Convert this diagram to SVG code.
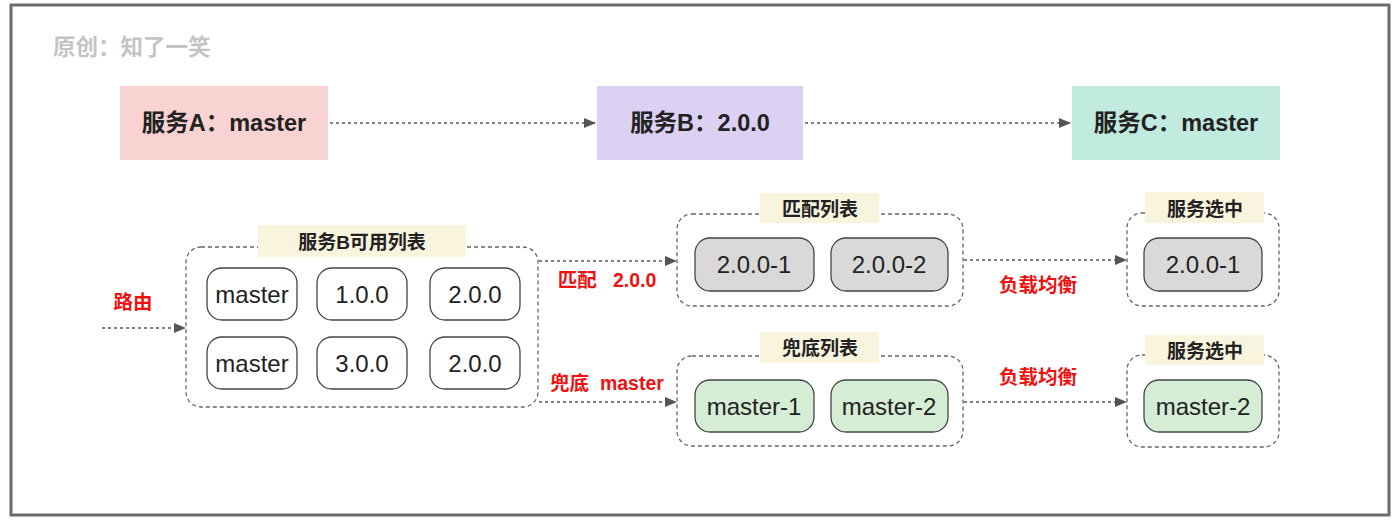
<svg xmlns="http://www.w3.org/2000/svg" width="1400" height="520" viewBox="0 0 1400 520">
<style>
text{font-family:"Liberation Sans","Noto Sans CJK SC",sans-serif;}
.svc{font-size:23.5px;font-weight:bold;fill:#222;text-anchor:middle;dominant-baseline:central;}
.cont{fill:none;stroke:#666;stroke-width:1.3;stroke-dasharray:4 3;}
.lbg{fill:#f8f4dd;}
.ltxt{font-size:19px;font-weight:bold;fill:#222;text-anchor:middle;dominant-baseline:central;}
.node{fill:#fff;stroke:#444;stroke-width:1.3;}
.gray{fill:#d9d9d9;}
.green{fill:#d5ecd5;}
.ntxt{font-size:24px;fill:#222;text-anchor:middle;dominant-baseline:central;}
.red{font-size:19.5px;font-weight:bold;fill:#f01010;text-anchor:middle;dominant-baseline:central;}
.conn{fill:none;stroke:#555;stroke-width:1.3;stroke-dasharray:3 3;marker-end:url(#ah);}
</style>
<defs>
<marker id="ah" markerWidth="12" markerHeight="10" refX="11" refY="5" orient="auto" markerUnits="userSpaceOnUse">
<path d="M0,0 L12,5 L0,10 Z" fill="#555"/>
</marker>
</defs>
<rect x="0" y="0" width="1400" height="520" fill="#fff"/>
<rect x="11" y="5" width="1378" height="510" fill="#fff" stroke="#6b6b6b" stroke-width="3"/>
<text x="53" y="47" font-size="22.5" font-weight="bold" fill="#c4c4c4" dominant-baseline="central">原创：知了一笑</text>

<g id="svcA"><rect x="120" y="86" width="208" height="74" fill="#f9d3d2"/><text class="svc" x="224" y="123">服务A：master</text></g>
<g id="svcB"><rect x="597" y="86" width="206" height="74" fill="#dcd0f3"/><text class="svc" x="700" y="123">服务B：2.0.0</text></g>
<g id="svcC"><rect x="1072" y="86" width="208" height="74" fill="#c2ebe0"/><text class="svc" x="1176" y="123">服务C：master</text></g>

<g id="availList">
<rect class="cont" x="186" y="247" width="352" height="160" rx="15"/>
<rect class="lbg" x="258" y="225" width="208" height="32"/>
<text class="ltxt" x="362" y="242">服务B可用列表</text>
</g>
<g id="n-m1"><rect class="node" x="207" y="268" width="90" height="52" rx="15"/><text class="ntxt" x="252" y="294">master</text></g>
<g id="n-100"><rect class="node" x="317" y="268" width="90" height="52" rx="15"/><text class="ntxt" x="362" y="294">1.0.0</text></g>
<g id="n-200a"><rect class="node" x="430" y="268" width="90" height="52" rx="15"/><text class="ntxt" x="475" y="294">2.0.0</text></g>
<g id="n-m2"><rect class="node" x="207" y="337" width="90" height="52" rx="15"/><text class="ntxt" x="252" y="363">master</text></g>
<g id="n-300"><rect class="node" x="317" y="337" width="90" height="52" rx="15"/><text class="ntxt" x="362" y="363">3.0.0</text></g>
<g id="n-200b"><rect class="node" x="430" y="337" width="90" height="52" rx="15"/><text class="ntxt" x="475" y="363">2.0.0</text></g>

<g id="matchList">
<rect class="cont" x="677" y="214" width="286" height="92" rx="15"/>
<rect class="lbg" x="760" y="193" width="119" height="30"/>
<text class="ltxt" x="820" y="209">匹配列表</text>
</g>
<g id="n-201"><rect class="node gray" x="695" y="238" width="119" height="53" rx="15"/><text class="ntxt" x="754" y="264">2.0.0-1</text></g>
<g id="n-202"><rect class="node gray" x="831" y="238" width="117" height="53" rx="15"/><text class="ntxt" x="889" y="264">2.0.0-2</text></g>

<g id="fallbackList">
<rect class="cont" x="677" y="356" width="286" height="90" rx="15"/>
<rect class="lbg" x="760" y="332" width="119" height="31"/>
<text class="ltxt" x="820" y="348">兜底列表</text>
</g>
<g id="n-fm1"><rect class="node green" x="695" y="380" width="119" height="52" rx="15"/><text class="ntxt" x="754" y="406">master-1</text></g>
<g id="n-fm2"><rect class="node green" x="831" y="380" width="117" height="52" rx="15"/><text class="ntxt" x="889" y="406">master-2</text></g>

<g id="sel1">
<rect class="cont" x="1127" y="213" width="152" height="93" rx="15"/>
<rect class="lbg" x="1145" y="192" width="119" height="31"/>
<text class="ltxt" x="1205" y="209">服务选中</text>
<rect class="node gray" x="1144" y="238" width="118" height="53" rx="15"/><text class="ntxt" x="1203" y="264">2.0.0-1</text>
</g>
<g id="sel2">
<rect class="cont" x="1127" y="355" width="152" height="92" rx="15"/>
<rect class="lbg" x="1145" y="335" width="119" height="30"/>
<text class="ltxt" x="1205" y="351">服务选中</text>
<rect class="node green" x="1144" y="380" width="118" height="52" rx="15"/><text class="ntxt" x="1203" y="406">master-2</text>
</g>

<g id="connectors">
<path class="conn" d="M330,123 H595"/>
<path class="conn" d="M805,123 H1070"/>
<path class="conn" d="M102,328 H185"/>
<path class="conn" d="M539,261 H676"/>
<path class="conn" d="M539,402 H676"/>
<path class="conn" d="M964,260 H1126"/>
<path class="conn" d="M964,402 H1126"/>
</g>
<g id="labels">
<text class="red" x="133" y="302">路由</text>
<text class="red" x="607" y="280" xml:space="preserve">匹配   2.0.0</text>
<text class="red" x="607" y="383" xml:space="preserve">兜底  master</text>
<text class="red" x="1038" y="285">负载均衡</text>
<text class="red" x="1038" y="377">负载均衡</text>
</g>
</svg>
